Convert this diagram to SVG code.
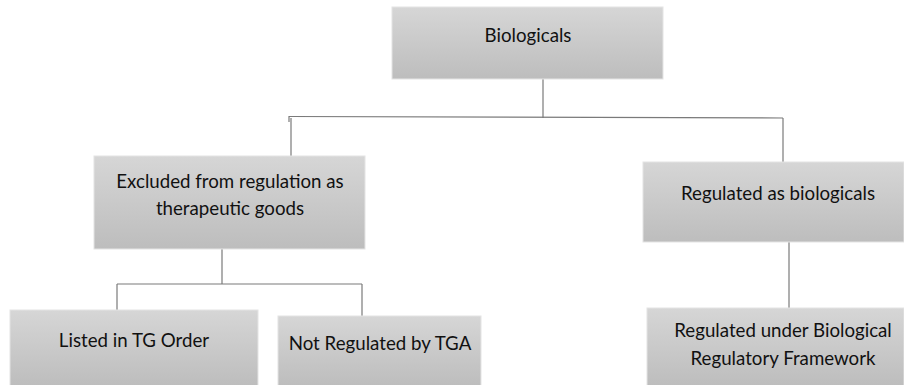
<svg xmlns="http://www.w3.org/2000/svg" width="904" height="385" viewBox="0 0 904 385">
<defs>
<linearGradient id="g" x1="0" y1="0" x2="0" y2="1">
<stop offset="0" stop-color="#d6d6d6"/>
<stop offset="1" stop-color="#bdbdbd"/>
</linearGradient>
</defs>
<style>
.box{fill:url(#g);stroke:#e4e4e4;stroke-width:1}
.t{font-family:Lato,"Liberation Sans",sans-serif;font-size:18.7px;fill:#111;text-anchor:middle}
.c{stroke:#7a7a7a;stroke-width:1.2;fill:none}
</style>
<rect width="904" height="385" fill="#fff"/>
<g id="connectors">
<path class="c" d="M543,79 V118"/>
<path class="c" d="M289,116.5 L783,118"/>
<path class="c" d="M289,116 V122"/>
<path class="c" d="M291,118 V156"/>
<path class="c" d="M783,118 V162"/>
<path class="c" d="M222,249 V284"/>
<path class="c" d="M117,284 H362"/>
<path class="c" d="M117,284 V311"/>
<path class="c" d="M362,284 V316"/>
<path class="c" d="M789,242 V309"/>
</g>
<g id="biologicals">
<rect class="box" x="392" y="7" width="271" height="72"/>
<text class="t" x="528" y="42">Biologicals</text>
</g>
<g id="excluded">
<rect class="box" x="94" y="156" width="271" height="93"/>
<text class="t" x="230" y="188">Excluded from regulation as</text>
<text class="t" x="230" y="215">therapeutic goods</text>
</g>
<g id="regulated">
<rect class="box" x="643" y="162" width="261" height="80"/>
<text class="t" x="778" y="200">Regulated as biologicals</text>
</g>
<g id="listed">
<rect class="box" x="10" y="310" width="248" height="76"/>
<text class="t" x="134" y="347">Listed in TG Order</text>
</g>
<g id="notregulated">
<rect class="box" x="278" y="316" width="203" height="70"/>
<text class="t" x="380" y="350">Not Regulated by TGA</text>
</g>
<g id="brf">
<rect class="box" x="647" y="308" width="257" height="78"/>
<text class="t" x="783" y="337">Regulated under Biological</text>
<text class="t" x="783" y="365">Regulatory Framework</text>
</g>
</svg>
